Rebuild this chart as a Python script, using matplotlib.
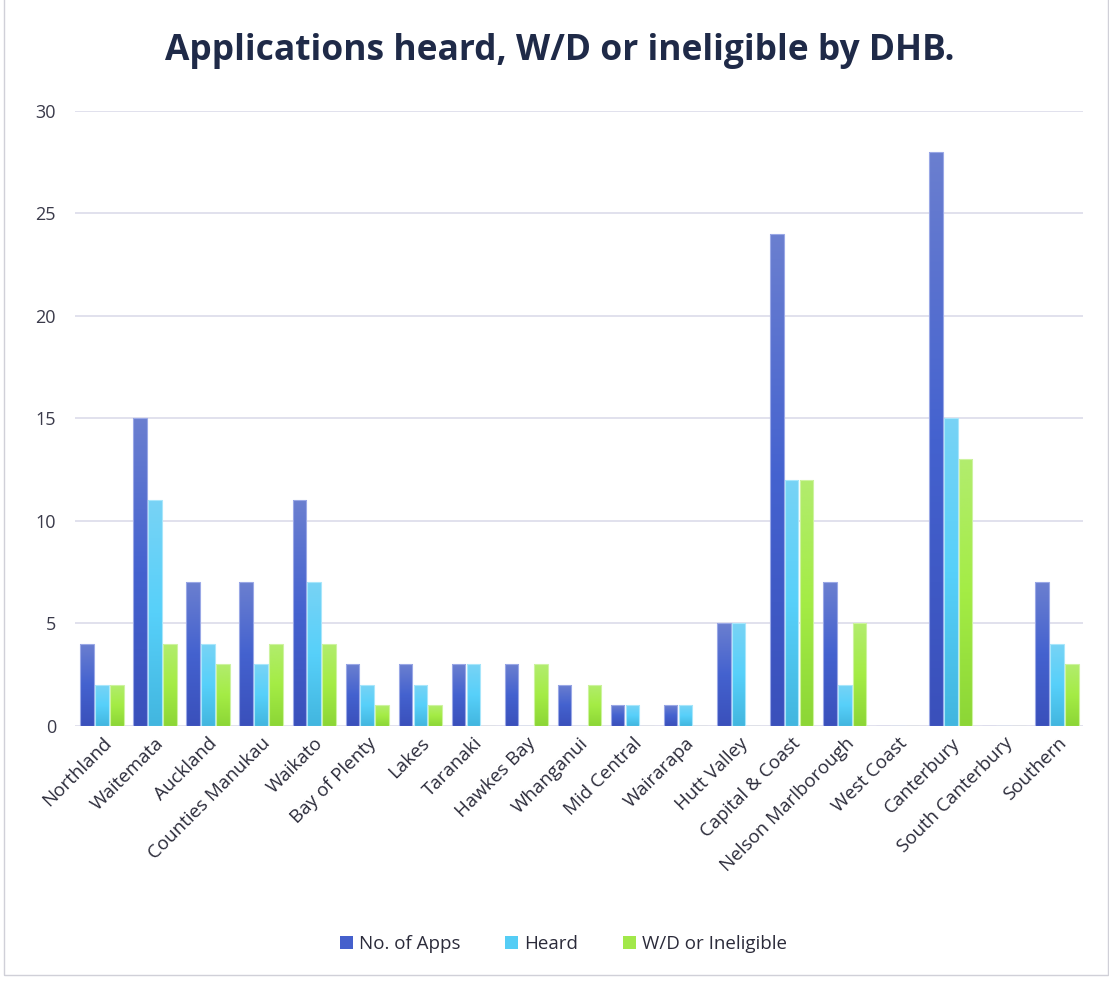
import matplotlib.pyplot as plt
import numpy as np
from matplotlib.colors import LinearSegmentedColormap
from matplotlib.patches import Rectangle, Patch

# data
dhbs = ['Northland', 'Waitemata', 'Auckland', 'Counties Manukau', 'Waikato',
        'Bay of Plenty', 'Lakes', 'Taranaki', 'Hawkes Bay', 'Whanganui',
        'Mid Central', 'Wairarapa', 'Hutt Valley', 'Capital & Coast',
        'Nelson Marlborough', 'West Coast', 'Canterbury', 'South Canterbury',
        'Southern']
apps = [4, 15, 7, 7, 11, 3, 3, 3, 3, 2, 1, 1, 5, 24, 7, 0, 28, 0, 7]
heard = [2, 11, 4, 3, 7, 2, 2, 3, 0, 0, 1, 1, 5, 12, 2, 0, 15, 0, 4]
wd = [2, 4, 3, 4, 4, 1, 1, 0, 3, 2, 0, 0, 0, 12, 5, 0, 13, 0, 3]
series_names = ['No. of Apps', 'Heard', 'W/D or Ineligible']

# gradient colours: bottom, middle, top
grads = [['#3a50bb', '#4462cf', '#6b7fd0'],
         ['#42b6df', '#57d0fa', '#78d3f5'],
         ['#8cd636', '#a4ec45', '#b2ec6e']]
edges = ['#9aa8e6', '#a8e6fb', '#cdf3a0']
solid = ['#4560cc', '#55cdf5', '#a2e84a']

plt.rcParams['font.family'] = ['Open Sans', 'DejaVu Sans']

fig = plt.figure(figsize=(11.09, 9.81), dpi=100)
ax = fig.add_axes([0.068, 0.26, 0.909, 0.627])

x = np.arange(len(dhbs))
w = 0.255
step = 0.28
grad = np.linspace(0, 1, 256).reshape(-1, 1)[::-1]

for i, vals in enumerate([apps, heard, wd]):
    cmap = LinearSegmentedColormap.from_list('g%d' % i, grads[i])
    bars = ax.bar(x + (i - 1) * step, vals, width=w, color='none',
                  edgecolor=edges[i], linewidth=0.8, zorder=3)
    for b in bars:
        h = b.get_height()
        if h <= 0:
            continue
        x0 = b.get_x()
        im = ax.imshow(grad, extent=[x0, x0 + b.get_width(), 0, h],
                       aspect='auto', cmap=cmap, zorder=2.5,
                       interpolation='bilinear')
        im.set_clip_path(b)

ax.set_xlim(-0.5, len(dhbs) - 0.5)
ax.set_ylim(0, 30)
ax.set_yticks(np.arange(0, 31, 5))
ax.set_xticks(x)
ax.set_xticklabels(dhbs, rotation=45, ha='right', rotation_mode='anchor',
                   fontsize=13.5, color='#2b2b3a')
ax.tick_params(axis='y', labelsize=13, colors='#3a3a4a', length=0, pad=14)
ax.tick_params(axis='x', length=0, pad=6)
ax.grid(True, axis='y', color='#dcdcea', linewidth=1.2, zorder=0)
ax.set_axisbelow(True)
for s in ax.spines.values():
    s.set_visible(False)

fig.text(0.505, 0.948, 'Applications heard, W/D or ineligible by DHB.',
         ha='center', va='center', fontsize=25.5, fontweight='bold',
         color='#1f2a48')

handles = [Patch(facecolor=solid[i], edgecolor='none') for i in range(3)]
fig.legend(handles, series_names, loc='center', bbox_to_anchor=(0.508, 0.038),
           ncol=3, frameon=False, fontsize=13.5, handlelength=0.7,
           handleheight=0.7, handletextpad=0.3, columnspacing=2.4,
           labelcolor='#2b2b3a')

# thin chart border
fig.patches.append(Rectangle((0.004, 0.006), 0.995, 1.2, transform=fig.transFigure,
                             fill=False, edgecolor='#d0d0d8', linewidth=1))

fig.savefig('out.png', dpi=100)
